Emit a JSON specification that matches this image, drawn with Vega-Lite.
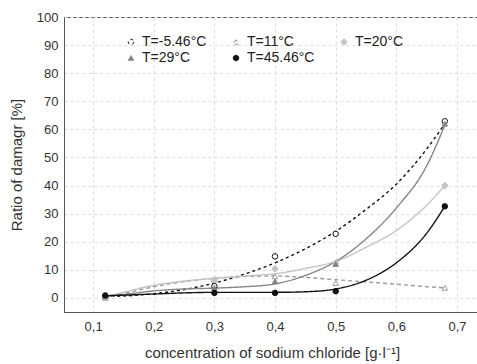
{
  "$schema": "https://vega.github.io/schema/vega-lite/v6.json",
  "autosize": {"type": "none"},
  "padding": {"left": 64, "top": 17, "right": 0, "bottom": 52},
  "width": 416,
  "height": 295,
  "background": "white",
  "config": {
    "font": "Liberation Sans",
    "view": {"stroke": "#555", "strokeWidth": 1},
    "axis": {
      "labelFont": "Liberation Sans",
      "titleFont": "Liberation Sans",
      "labelColor": "#333",
      "titleColor": "#333",
      "labelFontSize": 13,
      "titleFontSize": 15,
      "titleFontWeight": "normal",
      "domainColor": "#555",
      "ticks": false,
      "gridColor": "#dcdcdc",
      "gridDash": [3, 3]
    },
    "legend": {"labelFont": "Liberation Sans"}
  },
  "datasets": {
    "points": [
      {"series": "T=-5.46°C", "x": 0.12, "y": 0.5},
      {"series": "T=-5.46°C", "x": 0.3, "y": 4.2},
      {"series": "T=-5.46°C", "x": 0.4, "y": 14.8},
      {"series": "T=-5.46°C", "x": 0.5, "y": 22.8},
      {"series": "T=-5.46°C", "x": 0.68, "y": 62.9},
      {"series": "T=11°C", "x": 0.12, "y": 0},
      {"series": "T=11°C", "x": 0.3, "y": 6.5},
      {"series": "T=11°C", "x": 0.4, "y": 7.7},
      {"series": "T=11°C", "x": 0.5, "y": 5.3},
      {"series": "T=11°C", "x": 0.68, "y": 3.6},
      {"series": "T=20°C", "x": 0.12, "y": 0},
      {"series": "T=20°C", "x": 0.3, "y": 6.5},
      {"series": "T=20°C", "x": 0.4, "y": 10.4},
      {"series": "T=20°C", "x": 0.5, "y": 12.5},
      {"series": "T=20°C", "x": 0.68, "y": 40},
      {"series": "T=29°C", "x": 0.12, "y": 0.5},
      {"series": "T=29°C", "x": 0.3, "y": 3.6},
      {"series": "T=29°C", "x": 0.4, "y": 5.9},
      {"series": "T=29°C", "x": 0.5, "y": 12.1},
      {"series": "T=29°C", "x": 0.68, "y": 62},
      {"series": "T=45.46°C", "x": 0.12, "y": 0.9},
      {"series": "T=45.46°C", "x": 0.3, "y": 1.8},
      {"series": "T=45.46°C", "x": 0.4, "y": 1.8},
      {"series": "T=45.46°C", "x": 0.5, "y": 2.4},
      {"series": "T=45.46°C", "x": 0.68, "y": 32.6}
    ],
    "curves": [
      {"series": "T=-5.46°C", "x": 0.12, "y": 0.5},
      {"series": "T=-5.46°C", "x": 0.15, "y": 0.7},
      {"series": "T=-5.46°C", "x": 0.2, "y": 1.5},
      {"series": "T=-5.46°C", "x": 0.25, "y": 3},
      {"series": "T=-5.46°C", "x": 0.3, "y": 5.3},
      {"series": "T=-5.46°C", "x": 0.35, "y": 8.5},
      {"series": "T=-5.46°C", "x": 0.4, "y": 12.5},
      {"series": "T=-5.46°C", "x": 0.45, "y": 17.5},
      {"series": "T=-5.46°C", "x": 0.5, "y": 23.7},
      {"series": "T=-5.46°C", "x": 0.55, "y": 31.5},
      {"series": "T=-5.46°C", "x": 0.6, "y": 40.5},
      {"series": "T=-5.46°C", "x": 0.65, "y": 53},
      {"series": "T=-5.46°C", "x": 0.68, "y": 62},
      {"series": "T=11°C", "x": 0.12, "y": 0},
      {"series": "T=11°C", "x": 0.15, "y": 1.5},
      {"series": "T=11°C", "x": 0.2, "y": 4},
      {"series": "T=11°C", "x": 0.25, "y": 5.8},
      {"series": "T=11°C", "x": 0.3, "y": 7},
      {"series": "T=11°C", "x": 0.35, "y": 7.6},
      {"series": "T=11°C", "x": 0.4, "y": 7.8},
      {"series": "T=11°C", "x": 0.45, "y": 7.3},
      {"series": "T=11°C", "x": 0.5, "y": 6.5},
      {"series": "T=11°C", "x": 0.55, "y": 5.7},
      {"series": "T=11°C", "x": 0.6, "y": 4.9},
      {"series": "T=11°C", "x": 0.65, "y": 4},
      {"series": "T=11°C", "x": 0.68, "y": 3.6},
      {"series": "T=20°C", "x": 0.12, "y": 0.3},
      {"series": "T=20°C", "x": 0.15, "y": 2},
      {"series": "T=20°C", "x": 0.2, "y": 4.5},
      {"series": "T=20°C", "x": 0.25, "y": 6},
      {"series": "T=20°C", "x": 0.3, "y": 7},
      {"series": "T=20°C", "x": 0.35, "y": 7.8},
      {"series": "T=20°C", "x": 0.4, "y": 8.6},
      {"series": "T=20°C", "x": 0.45, "y": 10.5},
      {"series": "T=20°C", "x": 0.5, "y": 13},
      {"series": "T=20°C", "x": 0.55, "y": 18},
      {"series": "T=20°C", "x": 0.6, "y": 24},
      {"series": "T=20°C", "x": 0.65, "y": 33},
      {"series": "T=20°C", "x": 0.68, "y": 40},
      {"series": "T=29°C", "x": 0.12, "y": 0.5},
      {"series": "T=29°C", "x": 0.15, "y": 1.2},
      {"series": "T=29°C", "x": 0.2, "y": 2.5},
      {"series": "T=29°C", "x": 0.25, "y": 3.2},
      {"series": "T=29°C", "x": 0.3, "y": 3.5},
      {"series": "T=29°C", "x": 0.35, "y": 4},
      {"series": "T=29°C", "x": 0.4, "y": 5},
      {"series": "T=29°C", "x": 0.45, "y": 8},
      {"series": "T=29°C", "x": 0.5, "y": 13},
      {"series": "T=29°C", "x": 0.55, "y": 21},
      {"series": "T=29°C", "x": 0.6, "y": 32},
      {"series": "T=29°C", "x": 0.65, "y": 47},
      {"series": "T=29°C", "x": 0.68, "y": 61.5},
      {"series": "T=45.46°C", "x": 0.12, "y": 0.8},
      {"series": "T=45.46°C", "x": 0.15, "y": 1},
      {"series": "T=45.46°C", "x": 0.2, "y": 1.4},
      {"series": "T=45.46°C", "x": 0.25, "y": 1.8},
      {"series": "T=45.46°C", "x": 0.3, "y": 2},
      {"series": "T=45.46°C", "x": 0.35, "y": 2},
      {"series": "T=45.46°C", "x": 0.4, "y": 2},
      {"series": "T=45.46°C", "x": 0.45, "y": 2.2},
      {"series": "T=45.46°C", "x": 0.5, "y": 3.2},
      {"series": "T=45.46°C", "x": 0.55, "y": 6.3},
      {"series": "T=45.46°C", "x": 0.6, "y": 12.5},
      {"series": "T=45.46°C", "x": 0.65, "y": 23},
      {"series": "T=45.46°C", "x": 0.68, "y": 32.6}
    ]
  },
  "encoding": {
    "x": {
      "field": "x", "type": "quantitative",
      "scale": {"domain": [0.052, 0.738], "nice": false, "zero": false},
      "axis": {"values": [0.1, 0.2, 0.3, 0.4, 0.5, 0.6, 0.7], "labelExpr": "replace(format(datum.value, '.1f'), '.', ',')", "labelPadding": 8, "title": "concentration of sodium chloride [g·l⁻¹]", "titlePadding": 12}
    },
    "y": {
      "field": "y", "type": "quantitative",
      "scale": {"domain": [-5, 100], "nice": false, "zero": false},
      "axis": {"values": [0, 10, 20, 30, 40, 50, 60, 70, 80, 90, 100], "labelPadding": 6, "title": "Ratio of damagr [%]", "titlePadding": 12}
    },
    "color": {
      "field": "series", "type": "nominal",
      "scale": {"domain": ["T=-5.46°C", "T=11°C", "T=20°C", "T=29°C", "T=45.46°C"], "range": ["#111111", "#9a9a9a", "#c4c4c4", "#858585", "#111111"]},
      "legend": {"title": null, "orient": "none", "legendX": 60, "legendY": 18, "direction": "horizontal", "columns": 3, "labelFontSize": 14, "labelColor": "#222", "symbolSize": 30, "columnPadding": 22, "rowPadding": 2, "symbolStrokeWidth": 1}
    }
  },
  "layer": [
    {
      "data": {"name": "curves"},
      "mark": {"type": "line", "strokeWidth": 1.4, "interpolate": "monotone"},
      "encoding": {
        "strokeDash": {
          "field": "series", "type": "nominal",
          "scale": {"domain": ["T=-5.46°C", "T=11°C", "T=20°C", "T=29°C", "T=45.46°C"], "range": [[3, 3], [4, 3], [1, 0], [1, 0], [1, 0]]},
          "legend": null
        }
      }
    },
    {
      "data": {"name": "points"},
      "mark": {"type": "point", "size": 30, "strokeWidth": 1, "opacity": 1},
      "encoding": {
        "shape": {
          "field": "series", "type": "nominal",
          "scale": {"domain": ["T=-5.46°C", "T=11°C", "T=20°C", "T=29°C", "T=45.46°C"], "range": ["circle", "triangle-up", "cross", "triangle-up", "circle"]}
        },
        "fill": {
          "field": "series", "type": "nominal",
          "scale": {"domain": ["T=-5.46°C", "T=11°C", "T=20°C", "T=29°C", "T=45.46°C"], "range": ["#ffffff", "#ffffff", "#c4c4c4", "#858585", "#111111"]}
        }
      }
    }
  ]
}
